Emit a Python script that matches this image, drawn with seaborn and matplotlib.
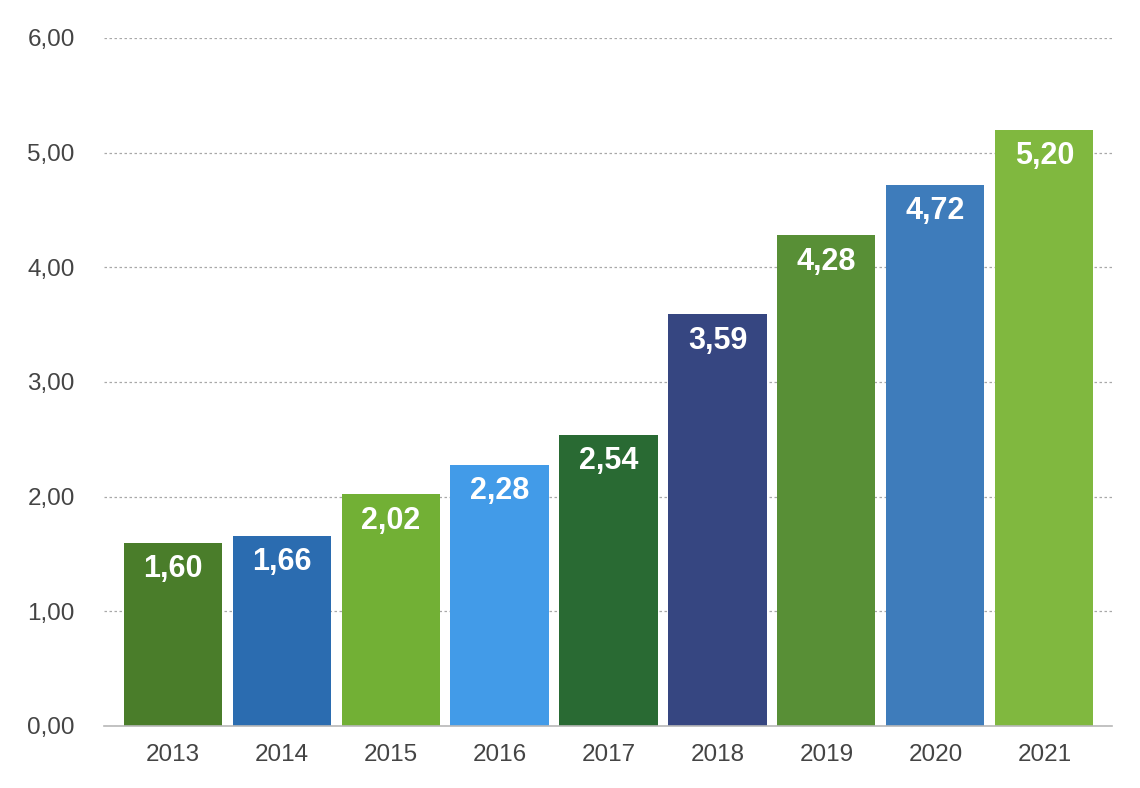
import matplotlib
matplotlib.use("Agg")
import matplotlib.pyplot as plt
from matplotlib.ticker import FuncFormatter
import pandas as pd
import seaborn as sns

years = ["2013", "2014", "2015", "2016", "2017", "2018", "2019", "2020", "2021"]
values = [1.60, 1.66, 2.02, 2.28, 2.54, 3.59, 4.28, 4.72, 5.20]
bar_colors = ["#4a7d2a", "#2b6cb0", "#72b035", "#429be8", "#296a33",
              "#364681", "#588f36", "#3e7cbb", "#80b83f"]
y_ticks = [0, 1, 2, 3, 4, 5, 6]

df = pd.DataFrame({"year": years, "value": values})

sns.set_style("white")
plt.rcParams["font.family"] = ["Liberation Sans", "DejaVu Sans"]

fig = plt.figure(figsize=(11.4, 7.88), dpi=100)
ax = fig.add_axes([0.0912, 0.0787, 0.8842, 0.8731])

sns.barplot(data=df, x="year", y="value", hue="year", palette=bar_colors,
            width=0.9, saturation=1, legend=False, linewidth=0, ax=ax)

# value labels inside the top of each bar
for x, v in enumerate(values):
    ax.annotate(f"{v:.2f}".replace(".", ","), (x, v), xytext=(0, -19),
                textcoords="offset points", ha="center", va="center",
                color="white", fontsize=22, fontweight="bold")

ax.set_ylim(0, 6)
ax.set_xlim(-0.63, 8.62)
ax.set_yticks(y_ticks)
ax.yaxis.set_major_formatter(FuncFormatter(lambda v, p: f"{v:.2f}".replace(".", ",")))
ax.set_xlabel("")
ax.set_ylabel("")

ax.grid(axis="y", color="#a8a8a8", linestyle=(0, (2, 2)), linewidth=0.9)
ax.set_axisbelow(True)
for s in ["top", "right", "left"]:
    ax.spines[s].set_visible(False)
ax.spines["bottom"].set_color("#b8b8b8")
ax.spines["bottom"].set_linewidth(1.2)

ax.tick_params(axis="y", length=0, pad=21, labelsize=17.5, labelcolor="#444444")
ax.tick_params(axis="x", length=0, pad=13, labelsize=17.5, labelcolor="#444444")

fig.savefig("out.png", dpi=100)
